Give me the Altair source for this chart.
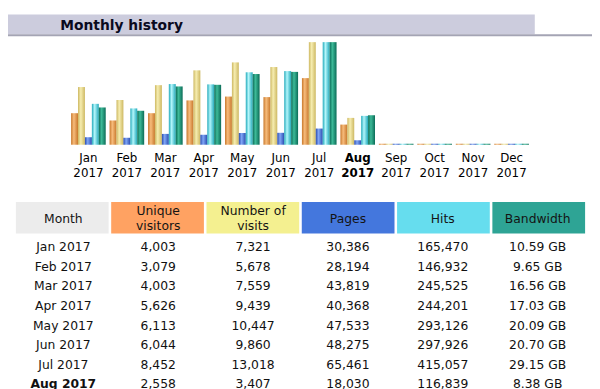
import altair as alt
import pandas as pd

# ---------------- data ----------------
months = ["Jan 2017", "Feb 2017", "Mar 2017", "Apr 2017", "May 2017", "Jun 2017",
          "Jul 2017", "Aug 2017", "Sep 2017", "Oct 2017", "Nov 2017", "Dec 2017"]
visitors = [4003, 3079, 4003, 5626, 6113, 6044, 8452, 2558, 0, 0, 0, 0]
visits = [7321, 5678, 7559, 9439, 10447, 9860, 13018, 3407, 0, 0, 0, 0]
pages = [30386, 28194, 43819, 40368, 47533, 48275, 65461, 18030, 0, 0, 0, 0]
hits = [165470, 146932, 245525, 244201, 293126, 297926, 415057, 116839, 0, 0, 0, 0]
bandwidth_gb = [10.59, 9.65, 16.56, 17.03, 20.09, 20.70, 29.15, 8.38, 0, 0, 0, 0]
current_month = "Aug 2017"
table_rows = 8  # rows visible in the table (Jan..Aug)

series = ["Unique visitors", "Number of visits", "Pages", "Hits", "Bandwidth"]
columns = ["Month"] + series
header_labels = ["Month", "Unique\nvisitors", "Number of\nvisits", "Pages", "Hits", "Bandwidth"]
header_colors = ["#ECECEC", "#FFA262", "#F4F090", "#4477DD", "#66DDEE", "#2EA495"]

# bar gradients (edge, centre) per series
bar_colors = {
    "Unique visitors": ("#C8782C", "#F7BC7C"),
    "Number of visits": ("#CDB862", "#F6EDB0"),
    "Pages": ("#2A4CB0", "#80A6F6"),
    "Hits": ("#22AABB", "#B4F6FB"),
    "Bandwidth": ("#0B6C57", "#3DBA98"),
}

FONT = "DejaVu Sans"

# ---------------- bar data ----------------
values = {
    "Unique visitors": visitors,
    "Number of visits": visits,
    "Pages": pages,
    "Hits": hits,
    "Bandwidth": bandwidth_gb,
}
# AWStats scales visitors+visits together, pages+hits together, bandwidth alone
scale_max = {
    "Unique visitors": max(visits),
    "Number of visits": max(visits),
    "Pages": max(hits),
    "Hits": max(hits),
    "Bandwidth": max(bandwidth_gb),
}
rows = []
for s in series:
    for m, v in zip(months, values[s]):
        rows.append({"month": m, "series": s, "value": v,
                     "h": max(v / scale_max[s], 0.0097)})
bars_df = pd.DataFrame(rows)

x_month = alt.Scale(domain=months, range=[62, 530], paddingInner=0.1, paddingOuter=0.05)
x_off = alt.Scale(domain=series, paddingInner=0, paddingOuter=0)
y_bar = alt.Scale(domain=[0, 1], range=[136, 32], nice=False, zero=True)

bar_layers = []
for s in series:
    edge, mid = bar_colors[s]
    grad = alt.LinearGradient(
        gradient="linear", x1=0, x2=1, y1=0, y2=0,
        stops=[alt.GradientStop(offset=0, color=edge),
               alt.GradientStop(offset=0.4, color=mid),
               alt.GradientStop(offset=1, color=edge)])
    bar_layers.append(
        alt.Chart(bars_df[bars_df.series == s]).mark_bar(fill=grad).encode(
            x=alt.X("month:N", scale=x_month, axis=None),
            xOffset=alt.XOffset("series:N", scale=x_off),
            y=alt.Y("h:Q", scale=y_bar, axis=None),
        )
    )

# month labels under bars
lab_df = pd.DataFrame({"month": months,
                       "label": [m.replace(" ", "\n") for m in months]})
lab_df["cur"] = lab_df["month"] == current_month


def month_labels(df, weight):
    return alt.Chart(df).mark_text(
        font=FONT, fontSize=12, fontWeight=weight, color="#000000",
        baseline="alphabetic", align="center", lineBreak="\n", lineHeight=15,
    ).encode(
        x=alt.X("month:N", scale=x_month, axis=None, bandPosition=0.5),
        y=alt.value(154),
        text="label:N",
    )


lab_normal = month_labels(lab_df[~lab_df.cur], "normal")
lab_bold = month_labels(lab_df[lab_df.cur], "bold")

# ---------------- title band ----------------
deco = pd.DataFrame({"a": [0]})
band = alt.Chart(deco).mark_rect(color="#CCCCDD").encode(
    x=alt.value(0), x2=alt.value(534), y=alt.value(4), y2=alt.value(24))
line = alt.Chart(deco).mark_rect(color="#A4A4B4").encode(
    x=alt.value(0), x2=alt.value(592), y=alt.value(24), y2=alt.value(26))
title = alt.Chart(deco).mark_text(
    text="Monthly history", font=FONT, fontSize=14, fontWeight="bold",
    color="#0A0A1E", align="left", baseline="alphabetic",
).encode(x=alt.value(53), y=alt.value(19.5))

# ---------------- table ----------------
x_col = alt.Scale(domain=columns, range=[8, 585], paddingInner=0.027, paddingOuter=0)

head_df = pd.DataFrame({"col": columns, "label": header_labels})
head_df["two"] = head_df["label"].str.contains("\n")
head_rect = alt.Chart(head_df).mark_rect().encode(
    x=alt.X("col:N", scale=x_col, axis=None),
    y=alt.value(194), y2=alt.value(226),
    color=alt.Color("col:N", scale=alt.Scale(domain=columns, range=header_colors), legend=None),
)


def head_text(df, ypos):
    return alt.Chart(df).mark_text(
        font=FONT, fontSize=12.5, color="#141414", baseline="alphabetic", align="center",
        lineBreak="\n", lineHeight=14.5,
    ).encode(
        x=alt.X("col:N", scale=x_col, axis=None, bandPosition=0.5),
        y=alt.value(ypos),
        text="label:N",
    )


head_one = head_text(head_df[~head_df.two], 215)
head_two = head_text(head_df[head_df.two], 207.5)

cells = []
for i in range(table_rows):
    m = months[i]
    texts = [m, f"{visitors[i]:,}", f"{visits[i]:,}", f"{pages[i]:,}",
             f"{hits[i]:,}", f"{bandwidth_gb[i]:.2f} GB"]
    for c, t in zip(columns, texts):
        cells.append({"row": m, "col": c, "text": t,
                      "bold": (m == current_month) and c == "Month"})
cells_df = pd.DataFrame(cells)
y_row = alt.Scale(domain=months[:table_rows], type="point", range=[244, 383], padding=0)


def table_text(df, weight):
    return alt.Chart(df).mark_text(
        font=FONT, fontSize=12.5, fontWeight=weight, color="#111111",
        baseline="alphabetic", align="center",
    ).encode(
        x=alt.X("col:N", scale=x_col, axis=None, bandPosition=0.5),
        y=alt.Y("row:N", scale=y_row, axis=None),
        text="text:N",
    )


body_normal = table_text(cells_df[~cells_df.bold], "normal")
body_bold = table_text(cells_df[cells_df.bold], "bold")

chart = alt.layer(
    band, line, title, *bar_layers, lab_normal, lab_bold,
    head_rect, head_one, head_two, body_normal, body_bold,
).resolve_scale(
    x="independent", y="independent", color="independent", xOffset="independent"
).properties(
    width=592, height=381, padding=0,
    autosize=alt.AutoSizeParams(type="none"),
).configure_view(stroke=None)

chart.save("out.html", embed_options={"renderer": "svg", "actions": False})
